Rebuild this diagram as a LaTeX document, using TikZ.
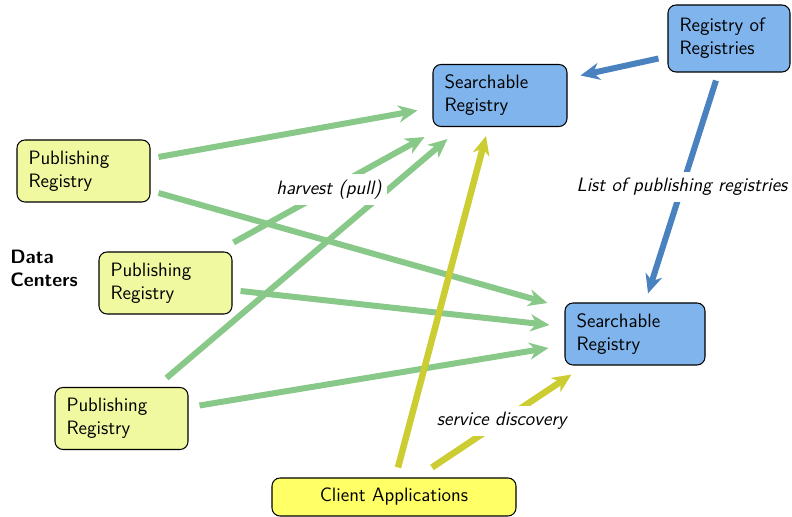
\documentclass[tikz,border=0pt]{standalone}
\usepackage{tikz}
\usetikzlibrary{shapes,arrows,arrows.meta}

\definecolor{pubyellow}{HTML}{F0F8A0}
\definecolor{clientyellow}{HTML}{FFFF66}
\definecolor{searchblue}{HTML}{80B4EC}
\definecolor{harvestgreen}{HTML}{88C888}
\definecolor{discoveryyellow}{HTML}{CCCC33}
\definecolor{listblue}{HTML}{4A82C0}

\begin{document}
\begin{tikzpicture}[node distance=1cm, >={Stealth[length=0.38cm,width=0.34cm,inset=0.12cm]},
    regbox/.style={draw, semithick, rectangle, rounded corners=0.16cm, align=left, inner xsep=0.23cm, minimum height=1.24cm, font=\sffamily\fontsize{11}{13}\selectfont},
    pubbox/.style={regbox, fill=pubyellow, text width=2.2cm},
    searchbox/.style={regbox, fill=searchblue},
    greenline/.style={->, line width=0.12cm, draw=harvestgreen},
    yellowline/.style={->, line width=0.13cm, draw=discoveryyellow},
    blueline/.style={->, line width=0.12cm, draw=listblue},
    lbl/.style={fill=white, font=\sffamily\itshape\fontsize{11}{13}\selectfont}]

    \useasboundingbox (0,0) rectangle (15.84,10.34);

    % Registre de publicare
    \node [pubbox] (pub1) at (1.67,6.92) {Publishing\\Registry};
    \node [pubbox, right of=pub1, node distance=1.64cm, yshift=-2.24cm] (pub2) {Publishing\\Registry};
    \node [pubbox, below of=pub2, node distance=2.71cm, xshift=-0.88cm] (pub3) {Publishing\\Registry};
    \node [font=\sffamily\bfseries\fontsize{11}{13}\selectfont, align=left, anchor=west, inner sep=0] (datacenters) at (0.2,4.98) {Data\\Centers};

    % Registre de cautare
    \node [searchbox, text width=2.22cm, right of=pub1, node distance=8.33cm, yshift=1.51cm] (search1) {Searchable\\Registry};
    \node [searchbox, text width=2.34cm, below of=search1, node distance=4.77cm, xshift=2.7cm] (search2) {Searchable\\Registry};
    \node [searchbox, text width=1.98cm, minimum height=1.34cm, right of=search1, node distance=4.58cm, yshift=1.14cm] (ror) {Registry of\\Registries};

    % Clienti
    \node [regbox, fill=clientyellow, align=center, minimum width=4.88cm, minimum height=0.76cm, right of=pub3, node distance=5.45cm, yshift=-1.57cm] (client) {Client Applications};

    % Legaturi harvest
    \draw [greenline] ([shift={(0.16,0.28)}]pub1.east) -- ([shift={(-0.3,-0.3)}]search1.west);
    \draw [greenline] ([shift={(0.16,-0.44)}]pub1.east) -- ([shift={(-0.34,0.62)}]search2.west);
    \draw [greenline] ([shift={(0.9,0.18)}]pub3.north) -- ([shift={(0.3,-0.24)}]search1.south west);
    \draw [greenline] ([shift={(0.02,0.18)}]pub2.north east) -- node[lbl] {harvest (pull)} ([shift={(-0.16,-0.2)}]search1.south west);
    \draw [greenline] ([shift={(0.16,-0.16)}]pub2.east) -- ([shift={(-0.3,0.18)}]search2.west);
    \draw [greenline] ([shift={(0.22,0.26)}]pub3.east) -- ([shift={(-0.32,-0.28)}]search2.west);

    % Legaturi service discovery
    \draw [yellowline] ([shift={(0.08,0.2)}]client.north) -- ([shift={(-0.28,-0.18)}]search1.south);
    \draw [yellowline] ([shift={(0.76,0.2)}]client.north) -- node[lbl] {service discovery} ([shift={(0.14,-0.18)}]search2.south west);

    % Legaturi registry of registries
    \draw [blueline] ([shift={(-0.18,-0.4)}]ror.west) -- ([shift={(0.26,0.4)}]search1.east);
    \draw [blueline] ([shift={(-0.26,-0.16)}]ror.south) -- node[lbl] {List of publishing registries} ([shift={(0.26,0.18)}]search2.north);

\end{tikzpicture}
\end{document}
